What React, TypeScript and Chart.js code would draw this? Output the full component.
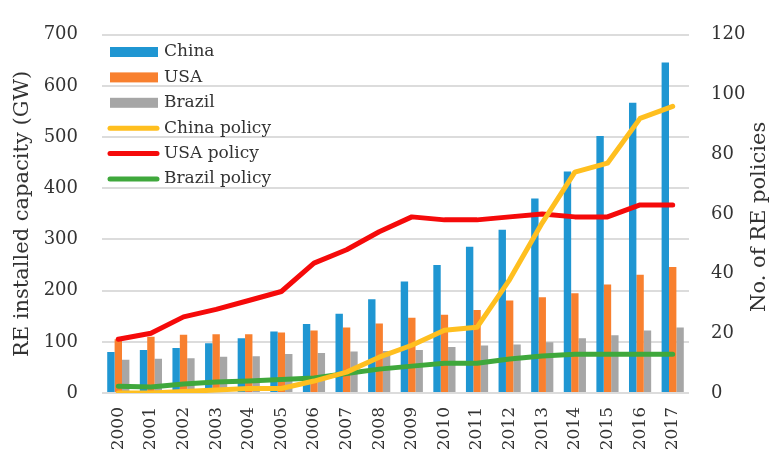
import React, { useEffect, useRef } from 'react';
import { Chart, registerables } from 'chart.js';

Chart.register(...registerables);

const years = ['2000', '2001', '2002', '2003', '2004', '2005', '2006', '2007', '2008', '2009', '2010', '2011', '2012', '2013', '2014', '2015', '2016', '2017'];
const chinaCapacity = [80, 84, 88, 97, 107, 120, 135, 155, 183, 218, 250, 286, 319, 380, 433, 502, 567, 646];
const usaCapacity = [105, 110, 114, 115, 115, 118, 122, 128, 136, 147, 153, 162, 181, 187, 195, 212, 231, 246];
const brazilCapacity = [65, 67, 68, 71, 72, 76, 78, 81, 82, 84, 90, 93, 95, 99, 107, 113, 122, 128];
const chinaPolicy = [0, 0, 0.5, 1, 1.5, 1.5, 4, 7, 12, 16, 21, 22, 38, 57, 74, 77, 92, 96];
const usaPolicy = [18, 20, 25.5, 28, 31, 34, 43.5, 48, 54, 59, 58, 58, 59, 60, 59, 59, 63, 63];
const brazilPolicy = [2.3, 2, 3, 3.7, 4, 4.5, 5, 6.5, 8, 9, 10, 10, 11.4, 12.4, 13, 13, 13, 13];
const leftTicks = [0, 100, 200, 300, 400, 500, 600, 700];
const rightTicks = [0, 20, 40, 60, 80, 100, 120];
const leftTitle = 'RE installed capacity (GW)';
const rightTitle = 'No. of RE policies';

const FONT = "'DejaVu Serif', serif";
const TEXT = '#333333';
const C_BLUE = '#1f96d2';
const C_ORANGE = '#f8802f';
const C_GRAY = '#a6a6a6';
const C_YELLOW = '#ffbf1f';
const C_RED = '#f50a0a';
const C_GREEN = '#3fa83c';

export default function App() {
  const ref = useRef<HTMLCanvasElement>(null);

  useEffect(() => {
    const legendPlugin = {
      id: 'customLegend',
      afterDraw(chart: any) {
        const ctx = chart.ctx;
        ctx.save();
        ctx.font = `17px ${FONT}`;
        ctx.textBaseline = 'middle';
        ctx.textAlign = 'left';
        chart.data.datasets.forEach((ds: any, i: number) => {
          const y = 52 + i * 25.4;
          if (ds.type === 'line') {
            ctx.strokeStyle = ds.borderColor;
            ctx.lineWidth = 5;
            ctx.lineCap = 'round';
            ctx.beginPath();
            ctx.moveTo(110, y);
            ctx.lineTo(157, y);
            ctx.stroke();
          } else {
            ctx.fillStyle = ds.backgroundColor;
            ctx.fillRect(110, y - 5, 48, 10);
          }
          ctx.fillStyle = TEXT;
          ctx.fillText(ds.label, 164, y);
        });
        ctx.restore();
      },
    };

    const titlePlugin = {
      id: 'axisTitles',
      afterDraw(chart: any) {
        const ctx = chart.ctx;
        const ca = chart.chartArea;
        const cy = (ca.top + ca.bottom) / 2;
        ctx.save();
        ctx.font = `21px ${FONT}`;
        ctx.fillStyle = TEXT;
        ctx.textAlign = 'center';
        ctx.textBaseline = 'alphabetic';
        ctx.save();
        ctx.translate(28, cy);
        ctx.rotate(-Math.PI / 2);
        ctx.fillText(leftTitle, 0, 0);
        ctx.restore();
        ctx.save();
        ctx.translate(765, cy + 3);
        ctx.rotate(-Math.PI / 2);
        ctx.fillText(rightTitle, 0, 0);
        ctx.restore();
        ctx.restore();
      },
    };

    const lineDs = (label: string, data: number[], color: string) => ({
      type: 'line' as const,
      label,
      data,
      yAxisID: 'y1',
      borderColor: color,
      backgroundColor: color,
      borderWidth: 5,
      pointRadius: 0,
      tension: 0,
      borderJoinStyle: 'round' as const,
      borderCapStyle: 'round' as const,
      order: 0,
    });
    const barDs = (label: string, data: number[], color: string) => ({
      type: 'bar' as const,
      label,
      data,
      yAxisID: 'y',
      backgroundColor: color,
      borderWidth: 0,
      categoryPercentage: 0.68,
      barPercentage: 1,
      order: 1,
    });

    const chart = new Chart(ref.current!, {
      type: 'bar',
      data: {
        labels: years,
        datasets: [
          barDs('China', chinaCapacity, C_BLUE),
          barDs('USA', usaCapacity, C_ORANGE),
          barDs('Brazil', brazilCapacity, C_GRAY),
          lineDs('China policy', chinaPolicy, C_YELLOW),
          lineDs('USA policy', usaPolicy, C_RED),
          lineDs('Brazil policy', brazilPolicy, C_GREEN),
        ] as any,
      },
      options: {
        animation: false,
        responsive: true,
        maintainAspectRatio: false,
        layout: { padding: { top: 26, left: 0, right: 0, bottom: 0 } },
        plugins: {
          legend: { display: false },
          tooltip: { enabled: false },
          title: { display: false },
        },
        scales: {
          x: {
            grid: { display: false, drawTicks: false },
            border: { display: false },
            ticks: {
              color: TEXT,
              font: { family: FONT, size: 17 },
              maxRotation: 90,
              minRotation: 90,
              autoSkip: false,
              padding: 14,
            },
            afterFit(scale: any) {
              scale.height = 63;
            },
          },
          y: {
            position: 'left',
            min: 0,
            max: 700,
            afterBuildTicks(scale: any) {
              scale.ticks = leftTicks.map((v) => ({ value: v }));
            },
            grid: { color: '#dcdcdc', lineWidth: 2, drawTicks: false },
            border: { display: false },
            ticks: {
              color: TEXT,
              font: { family: FONT, size: 18 },
              padding: 24,
            },
            afterFit(scale: any) {
              scale.width = 102;
            },
          },
          y1: {
            position: 'right',
            min: 0,
            max: 120,
            afterBuildTicks(scale: any) {
              scale.ticks = rightTicks.map((v) => ({ value: v }));
            },
            grid: { display: false, drawTicks: false },
            border: { display: false },
            ticks: {
              color: TEXT,
              font: { family: FONT, size: 18 },
              padding: 22,
            },
            afterFit(scale: any) {
              scale.width = 85;
            },
          },
        },
      } as any,
      plugins: [legendPlugin, titlePlugin],
    });
    return () => chart.destroy();
  }, []);

  return (
    <div style={{ position: 'absolute', left: 0, top: 0, width: 774, height: 456, background: '#ffffff' }}>
      <canvas ref={ref} />
    </div>
  );
}
